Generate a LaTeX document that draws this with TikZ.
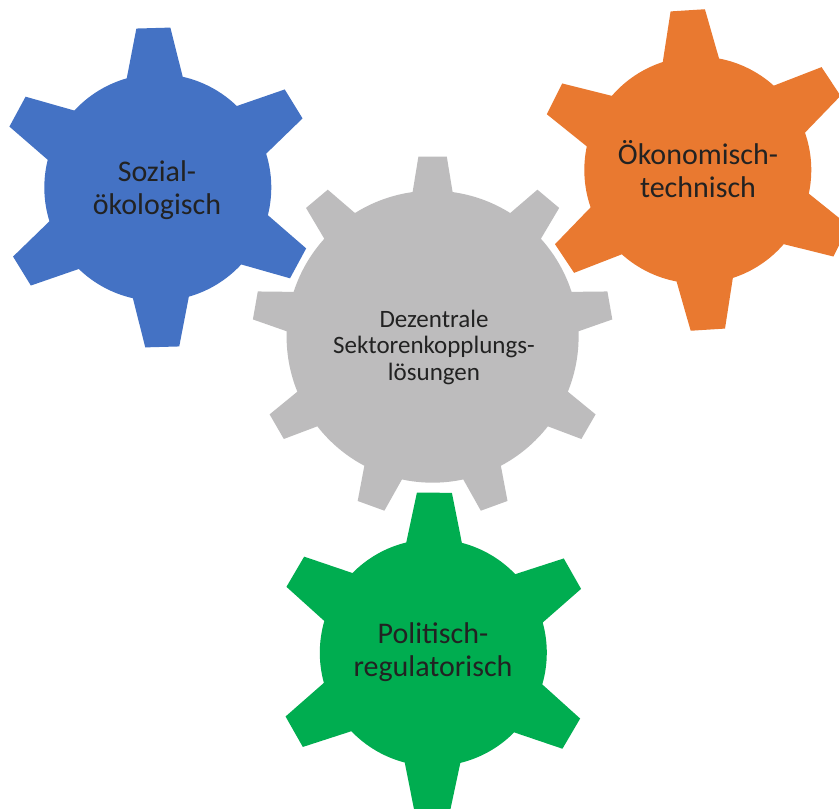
\documentclass[tikz,border=0pt]{standalone}
\usepackage{fontspec}
\setmainfont{Carlito}
\definecolor{gblue}{RGB}{68,114,196}
\definecolor{gorange}{RGB}{233,121,48}
\definecolor{ggray}{RGB}{189,188,189}
\definecolor{ggreen}{RGB}{0,173,80}
\definecolor{gtext}{RGB}{34,34,34}
% #1 cx, #2 cy, #3 teeth, #4 outer radius, #5 body radius, #6 tip half width, #7 base half width, #8 rotation, #9 colour
\newcommand{\drawgear}[9]{%
  \begin{scope}[shift={(#1pt,#2pt)}, rotate=#8]
    \pgfmathsetmacro\gdb{asin(#7/#5)}
    \pgfmathsetmacro\gdt{atan(#6/#4)}
    \pgfmathsetmacro\grt{veclen(#4,#6)}
    \pgfmathsetmacro\gstp{360/#3}
    \pgfmathtruncatemacro\glast{#3-1}
    \fill[#9] ({90-\gdb}:#5pt)
      \foreach \k in {0,...,\glast} {
        -- ({90+\k*\gstp-\gdb}:#5pt)
        -- ({90+\k*\gstp-\gdt}:\grt pt)
        -- ({90+\k*\gstp+\gdt}:\grt pt)
        -- ({90+\k*\gstp+\gdb}:#5pt)
        arc[start angle={90+\k*\gstp+\gdb}, end angle={90+(\k+1)*\gstp-\gdb}, radius=#5pt]
      } -- cycle;
  \end{scope}}
\tikzset{
  geartext/.style={align=center, text=gtext, font=\fontsize{30}{33}\selectfont},
  centertext/.style={align=center, text=gtext, font=\fontsize{25}{26.5}\selectfont}
}
\begin{document}
\begin{tikzpicture}[x=1pt,y=1pt]
  \fill[white] (0,0) rectangle (839,809);
  \useasboundingbox (0,0) rectangle (839,809);
  \clip (0,0) rectangle (839,809);
  \drawgear{157.8}{621.5}{6}{159.5}{113.5}{17}{28}{1.6}{gblue}
  \drawgear{697.8}{639}{6}{160}{113.5}{17.2}{28.2}{3.6}{gorange}
  \drawgear{432.6}{472.3}{9}{180}{146}{14.2}{20}{0}{ggray}
  \drawgear{433.3}{156.3}{6}{160}{113.5}{17.5}{27.8}{-0.4}{ggreen}
  \node[geartext] (soz) at (157,619) {Sozial-\\ökologisch};
  \node[geartext] (oek) at (698,640) {Ökonomisch-\\technisch};
  \node[centertext] (dez) at (434,462) {Dezentrale\\Sektorenkopplungs-\\lösungen};
  \node[geartext] (pol) at (433,157) {Politisch-\\regulatorisch};
\end{tikzpicture}
\end{document}
